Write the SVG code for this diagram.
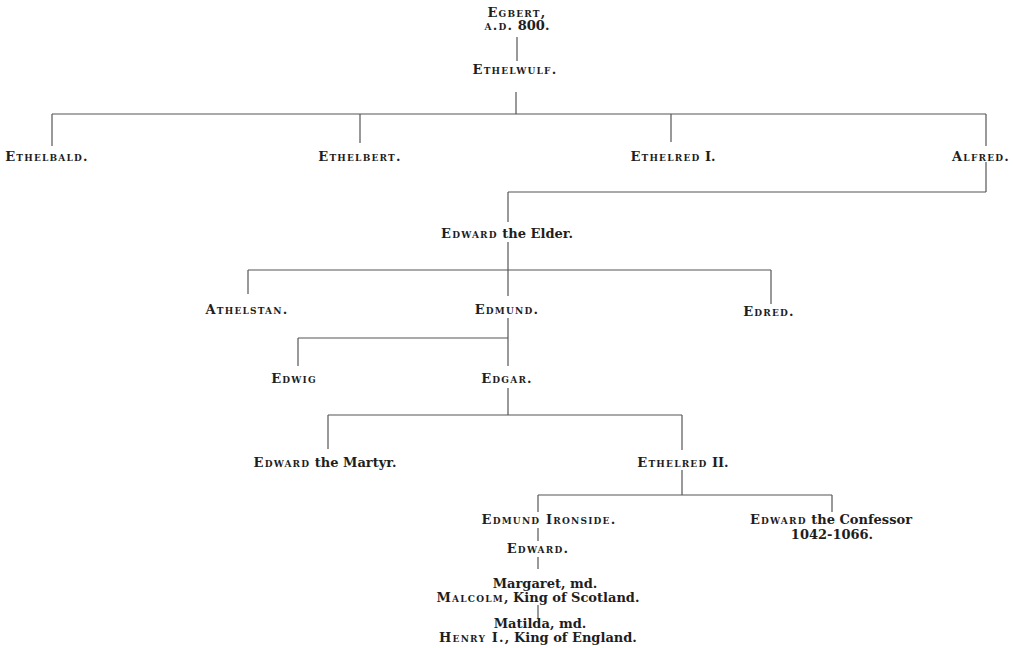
<svg xmlns="http://www.w3.org/2000/svg" width="1013" height="648" viewBox="0 0 1013 648">
<style>
text{font-family:"DejaVu Serif","Liberation Serif",serif;font-weight:bold;font-size:13px;fill:#1e1e1e;text-anchor:middle}
.sc{font-variant:small-caps;letter-spacing:1.2px}
.c line{stroke:#555555;stroke-width:1.2}
</style>
<rect width="1013" height="648" fill="#ffffff"/>
<g id="connectors" class="c">
<line x1="517" y1="37" x2="517" y2="61"/>
<line x1="516" y1="92" x2="516" y2="114"/>
<line x1="52" y1="114" x2="986" y2="114"/>
<line x1="52" y1="114" x2="52" y2="146"/>
<line x1="360" y1="114" x2="360" y2="143"/>
<line x1="671" y1="114" x2="671" y2="142"/>
<line x1="986" y1="114" x2="986" y2="146"/>
<line x1="986" y1="162" x2="986" y2="192"/>
<line x1="508" y1="192" x2="986" y2="192"/>
<line x1="508" y1="192" x2="508" y2="222"/>
<line x1="508" y1="242" x2="508" y2="270"/>
<line x1="248" y1="270" x2="771" y2="270"/>
<line x1="248" y1="270" x2="248" y2="294"/>
<line x1="508" y1="270" x2="508" y2="296"/>
<line x1="771" y1="270" x2="771" y2="304"/>
<line x1="508" y1="318" x2="508" y2="366"/>
<line x1="298" y1="338" x2="508" y2="338"/>
<line x1="298" y1="338" x2="298" y2="366"/>
<line x1="508" y1="388" x2="508" y2="415"/>
<line x1="328" y1="415" x2="682" y2="415"/>
<line x1="328" y1="415" x2="328" y2="449"/>
<line x1="682" y1="415" x2="682" y2="450"/>
<line x1="682" y1="470" x2="682" y2="495"/>
<line x1="538" y1="495" x2="832" y2="495"/>
<line x1="538" y1="495" x2="538" y2="512"/>
<line x1="832" y1="495" x2="832" y2="512"/>
<line x1="538" y1="528" x2="538" y2="541"/>
<line x1="538" y1="557" x2="538" y2="569"/>
<line x1="538" y1="605" x2="538" y2="618"/>
</g>
<g id="egbert"><text x="517" y="17"><tspan class="sc">Egbert,</tspan></text><text x="517" y="30"><tspan class="sc">a.d.</tspan> 800.</text></g>
<g id="ethelwulf"><text x="515" y="74" class="sc">Ethelwulf.</text></g>
<g id="ethelbald"><text x="47" y="161" class="sc">Ethelbald.</text></g>
<g id="ethelbert"><text x="360" y="161" class="sc">Ethelbert.</text></g>
<g id="ethelred1"><text x="673" y="161"><tspan class="sc">Ethelred</tspan> I.</text></g>
<g id="alfred"><text x="981" y="161" class="sc">Alfred.</text></g>
<g id="edward-elder"><text x="507" y="238"><tspan class="sc">Edward</tspan> the Elder.</text></g>
<g id="athelstan"><text x="247" y="314" class="sc">Athelstan.</text></g>
<g id="edmund"><text x="507" y="314" class="sc">Edmund.</text></g>
<g id="edred"><text x="769" y="316" class="sc">Edred.</text></g>
<g id="edwig"><text x="294" y="383" class="sc">Edwig</text></g>
<g id="edgar"><text x="507" y="383" class="sc">Edgar.</text></g>
<g id="edward-martyr"><text x="325" y="467"><tspan class="sc">Edward</tspan> the Martyr.</text></g>
<g id="ethelred2"><text x="683" y="467"><tspan class="sc">Ethelred</tspan> II.</text></g>
<g id="edmund-ironside"><text x="549" y="524" class="sc">Edmund Ironside.</text></g>
<g id="edward-confessor"><text x="831" y="524"><tspan class="sc">Edward</tspan> the Confessor</text><text x="832" y="539">1042-1066.</text></g>
<g id="edward"><text x="538" y="553" class="sc">Edward.</text></g>
<g id="margaret"><text x="545" y="588">Margaret, md.</text><text x="538" y="602"><tspan class="sc">Malcolm</tspan>, King of Scotland.</text></g>
<g id="matilda"><text x="540" y="628">Matilda, md.</text><text x="538" y="642"><tspan class="sc">Henry I.</tspan>, King of England.</text></g>
</svg>
